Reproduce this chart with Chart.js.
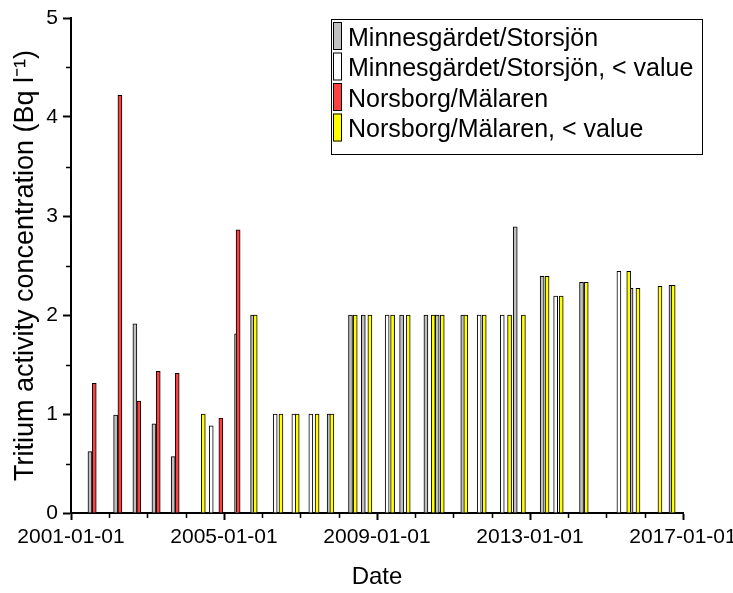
<!DOCTYPE html>
<html>
<head>
<meta charset="utf-8">
<script src="https://cdn.jsdelivr.net/npm/chart.js@4/dist/chart.umd.min.js"></script>
<style>
    html, body { margin: 0; padding: 0; background: #fff; }
</style>
</head>
<body>
<canvas id="tritiumChart" width="733" height="593"></canvas>
<script>
// --- Data ---
const seriesLabels = [
    'Minnesgärdet/Storsjön',
    'Minnesgärdet/Storsjön, < value',
    'Norsborg/Mälaren',
    'Norsborg/Mälaren, < value'
];

const minnesDates = ['2001-07-01', '2002-03-03', '2002-09-03', '2003-03-04', '2003-09-04', '2005-05-01', '2005-10-01',
    '2007-10-02', '2008-04-23', '2008-08-23', '2009-08-24', '2010-04-13', '2010-07-30', '2011-03-31',
    '2012-08-13', '2013-04-27', '2014-05-08', '2015-08-24', '2016-09-08'];
const minnesValues = [0.62, 0.99, 1.91, 0.90, 0.57, 1.81, 2.0, 1.0, 2.0, 2.0, 2.0, 2.0, 2.0, 2.0, 2.89, 2.39, 2.33, 2.27, 2.30];

const minnesLtDates = ['2004-09-01', '2006-05-05', '2006-10-30', '2007-04-10', '2009-04-08', '2011-09-04',
    '2012-04-11', '2013-09-03', '2015-04-30'];
const minnesLtValues = [0.88, 1.0, 1.0, 1.0, 2.0, 2.0, 2.0, 2.19, 2.44];

const norsDates = ['2001-08-11', '2002-04-13', '2002-10-11', '2003-04-14', '2003-10-12', '2004-12-02', '2005-05-16'];
const norsValues = [1.31, 4.22, 1.13, 1.43, 1.41, 0.96, 2.86];

const norsLtDates = ['2004-06-17', '2005-10-26', '2006-06-29', '2006-12-01', '2007-06-09', '2007-10-28', '2008-06-07',
    '2008-10-25', '2009-05-30', '2009-10-26', '2010-06-22', '2010-09-16', '2011-04-29', '2011-10-22',
    '2012-06-20', '2012-10-30', '2013-06-13', '2013-10-26', '2014-06-22', '2015-08-02', '2015-10-29',
    '2016-05-26', '2016-09-29'];
const norsLtValues = [1.0, 2.0, 1.0, 1.0, 1.0, 1.0, 2.0, 2.0, 2.0, 2.0, 2.0, 2.0, 2.0, 2.0, 2.0, 2.0,
    2.39, 2.19, 2.33, 2.44, 2.27, 2.29, 2.30];

const xTickLabels = ['2001-01-01', '2005-01-01', '2009-01-01', '2013-01-01', '2017-01-01'];
const yTickValues = [0, 1, 2, 3, 4, 5];

const seriesColors = ['#c0c0c0', '#ffffff', '#ff4040', '#ffff00'];

// --- Helpers ---
const toMs = s => {
    const [y, m, d] = s.split('-').map(Number);
    return Date.UTC(y, m - 1, d);
};
const toPoints = (dates, values) => dates.map((d, i) => ({ x: toMs(d), y: values[i] }));
const FONT = '"Liberation Sans", Arial, sans-serif';

// short minor ticks (every year on x, every 0.5 on y)
const minorTicks = {
    id: 'minorTicks',
    afterDraw(chart) {
        const { ctx, chartArea } = chart;
        const xs = chart.scales.x, ys = chart.scales.y;
        ctx.save();
        ctx.strokeStyle = '#000';
        ctx.lineWidth = 1.5;
        ctx.beginPath();
        for (let yr = 2002; yr < 2017; yr++) {
            if ((yr - 2001) % 4 === 0) continue;
            const px = Math.round(xs.getPixelForValue(Date.UTC(yr, 0, 1))) + 0.5;
            ctx.moveTo(px, chartArea.bottom);
            ctx.lineTo(px, chartArea.bottom + 5);
        }
        for (let v = 0.5; v < 5; v += 1) {
            const py = Math.round(ys.getPixelForValue(v)) + 0.5;
            ctx.moveTo(chartArea.left, py);
            ctx.lineTo(chartArea.left - 5, py);
        }
        ctx.stroke();
        ctx.restore();
    }
};

// boxed legend inside the plot, Origin style
const boxLegend = {
    id: 'boxLegend',
    afterDraw(chart) {
        const ctx = chart.ctx;
        ctx.save();
        ctx.fillStyle = '#fff';
        ctx.fillRect(331, 19, 372, 135);
        ctx.strokeStyle = '#000';
        ctx.lineWidth = 1;
        ctx.strokeRect(331.5, 19.5, 371, 135);
        ctx.font = '25px ' + FONT;
        ctx.textBaseline = 'alphabetic';
        chart.data.datasets.forEach((ds, i) => {
            const top = 22 + i * 30.5;
            ctx.fillStyle = ds.backgroundColor;
            ctx.fillRect(333, top, 9, 28);
            ctx.strokeStyle = '#000';
            ctx.strokeRect(333.5, top + 0.5, 8, 27);
            ctx.fillStyle = '#000';
            ctx.fillText(ds.label, 348, 46 + i * 30.4);
        });
        ctx.restore();
    }
};

const datasets = [
    { label: seriesLabels[0], data: toPoints(minnesDates, minnesValues), backgroundColor: seriesColors[0], order: 4 },
    { label: seriesLabels[1], data: toPoints(minnesLtDates, minnesLtValues), backgroundColor: seriesColors[1], order: 3 },
    { label: seriesLabels[2], data: toPoints(norsDates, norsValues), backgroundColor: seriesColors[2], order: 2 },
    { label: seriesLabels[3], data: toPoints(norsLtDates, norsLtValues), backgroundColor: seriesColors[3], order: 1 }
].map(ds => Object.assign(ds, {
    borderColor: '#000',
    borderWidth: 1,
    barThickness: 4,
    grouped: false
}));

const ctx = document.getElementById('tritiumChart').getContext('2d');
new Chart(ctx, {
    type: 'bar',
    data: { datasets: datasets },
    options: {
        responsive: false,
        animation: false,
        devicePixelRatio: 1,
        layout: { padding: { left: 0, top: 18, right: 50, bottom: 0 } },
        plugins: {
            legend: { display: false },
            tooltip: { enabled: false }
        },
        scales: {
            x: {
                type: 'linear',
                offset: false,
                min: toMs(xTickLabels[0]),
                max: toMs(xTickLabels[xTickLabels.length - 1]),
                afterBuildTicks(scale) {
                    scale.ticks = xTickLabels.map(t => ({ value: toMs(t) }));
                },
                afterFit(scale) {
                    scale.height = 80;
                    scale.paddingLeft = 0;
                    scale.paddingRight = 0;
                },
                ticks: {
                    autoSkip: false,
                    maxRotation: 0,
                    color: '#000',
                    padding: 5,
                    font: { family: FONT, size: 21 },
                    callback: (v, i) => xTickLabels[i]
                },
                grid: {
                    offset: false,
                    drawOnChartArea: false,
                    drawTicks: true,
                    tickLength: 7,
                    tickWidth: 2,
                    tickColor: '#000'
                },
                border: { color: '#000', width: 2 },
                title: {
                    display: true,
                    text: 'Date',
                    color: '#000',
                    font: { family: FONT, size: 24 },
                    padding: { top: 0, bottom: 1 }
                }
            },
            y: {
                min: 0,
                max: 5,
                afterBuildTicks(scale) {
                    scale.ticks = yTickValues.map(v => ({ value: v }));
                },
                afterFit(scale) {
                    scale.width = 71;
                    scale.paddingTop = 0;
                    scale.paddingBottom = 0;
                },
                ticks: {
                    color: '#000',
                    padding: 5,
                    font: { family: FONT, size: 21 }
                },
                grid: {
                    drawOnChartArea: false,
                    drawTicks: true,
                    tickLength: 8,
                    tickWidth: 2,
                    tickColor: '#000'
                },
                border: { color: '#000', width: 2 },
                title: {
                    display: true,
                    text: 'Tritium activity concentration (Bq l\u207B\u00B9)',
                    color: '#000',
                    font: { family: FONT, size: 27 },
                    padding: { top: 9, bottom: 0 }
                }
            }
        }
    },
    plugins: [minorTicks, boxLegend]
});
</script>
</body>
</html>
